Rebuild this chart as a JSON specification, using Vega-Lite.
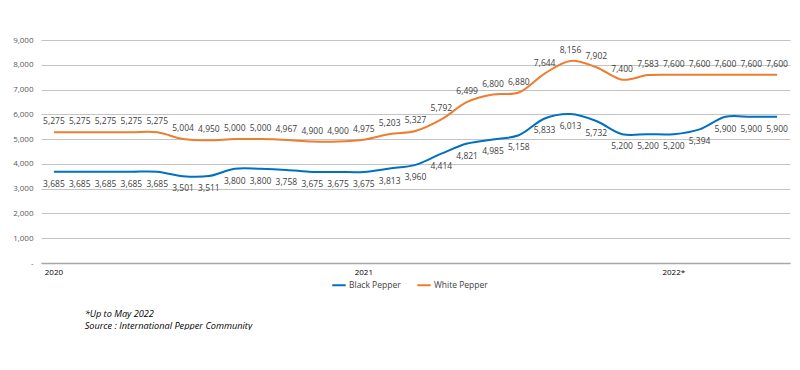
{
  "$schema": "https://vega.github.io/schema/vega-lite/v6.json",
  "autosize": "none",
  "width": 749,
  "height": 223,
  "padding": {"left": 41, "top": 40, "right": 10, "bottom": 67},
  "background": "white",
  "config": {
    "view": {"stroke": null},
    "font": "Open Sans",
    "axis": {"labelFont": "Open Sans", "labelColor": "#595959", "labelFontSize": 8, "ticks": false, "title": null},
    "legend": {"labelFont": "Open Sans"},
    "title": {"font": "Open Sans"}
  },
  "title": {
    "text": "*Up to May 2022",
    "subtitle": "Source : International Pepper Community",
    "orient": "bottom",
    "anchor": "start",
    "dx": 72,
    "offset": 20,
    "fontSize": 9.2,
    "fontStyle": "italic",
    "fontWeight": "normal",
    "color": "#000000",
    "subtitleFontSize": 9.2,
    "subtitleFontStyle": "italic",
    "subtitleColor": "#000000",
    "subtitlePadding": 3
  },
  "data": {
    "values": [
      {"month": "2020-01", "series": "Black Pepper", "price": 3685},
      {"month": "2020-02", "series": "Black Pepper", "price": 3685},
      {"month": "2020-03", "series": "Black Pepper", "price": 3685},
      {"month": "2020-04", "series": "Black Pepper", "price": 3685},
      {"month": "2020-05", "series": "Black Pepper", "price": 3685},
      {"month": "2020-06", "series": "Black Pepper", "price": 3501},
      {"month": "2020-07", "series": "Black Pepper", "price": 3511},
      {"month": "2020-08", "series": "Black Pepper", "price": 3800},
      {"month": "2020-09", "series": "Black Pepper", "price": 3800},
      {"month": "2020-10", "series": "Black Pepper", "price": 3758},
      {"month": "2020-11", "series": "Black Pepper", "price": 3675},
      {"month": "2020-12", "series": "Black Pepper", "price": 3675},
      {"month": "2021-01", "series": "Black Pepper", "price": 3675},
      {"month": "2021-02", "series": "Black Pepper", "price": 3813},
      {"month": "2021-03", "series": "Black Pepper", "price": 3960},
      {"month": "2021-04", "series": "Black Pepper", "price": 4414},
      {"month": "2021-05", "series": "Black Pepper", "price": 4821},
      {"month": "2021-06", "series": "Black Pepper", "price": 4985},
      {"month": "2021-07", "series": "Black Pepper", "price": 5158},
      {"month": "2021-08", "series": "Black Pepper", "price": 5833},
      {"month": "2021-09", "series": "Black Pepper", "price": 6013},
      {"month": "2021-10", "series": "Black Pepper", "price": 5732},
      {"month": "2021-11", "series": "Black Pepper", "price": 5200},
      {"month": "2021-12", "series": "Black Pepper", "price": 5200},
      {"month": "2022-01", "series": "Black Pepper", "price": 5200},
      {"month": "2022-02", "series": "Black Pepper", "price": 5394},
      {"month": "2022-03", "series": "Black Pepper", "price": 5900},
      {"month": "2022-04", "series": "Black Pepper", "price": 5900},
      {"month": "2022-05", "series": "Black Pepper", "price": 5900},
      {"month": "2020-01", "series": "White Pepper", "price": 5275},
      {"month": "2020-02", "series": "White Pepper", "price": 5275},
      {"month": "2020-03", "series": "White Pepper", "price": 5275},
      {"month": "2020-04", "series": "White Pepper", "price": 5275},
      {"month": "2020-05", "series": "White Pepper", "price": 5275},
      {"month": "2020-06", "series": "White Pepper", "price": 5004},
      {"month": "2020-07", "series": "White Pepper", "price": 4950},
      {"month": "2020-08", "series": "White Pepper", "price": 5000},
      {"month": "2020-09", "series": "White Pepper", "price": 5000},
      {"month": "2020-10", "series": "White Pepper", "price": 4967},
      {"month": "2020-11", "series": "White Pepper", "price": 4900},
      {"month": "2020-12", "series": "White Pepper", "price": 4900},
      {"month": "2021-01", "series": "White Pepper", "price": 4975},
      {"month": "2021-02", "series": "White Pepper", "price": 5203},
      {"month": "2021-03", "series": "White Pepper", "price": 5327},
      {"month": "2021-04", "series": "White Pepper", "price": 5792},
      {"month": "2021-05", "series": "White Pepper", "price": 6499},
      {"month": "2021-06", "series": "White Pepper", "price": 6800},
      {"month": "2021-07", "series": "White Pepper", "price": 6880},
      {"month": "2021-08", "series": "White Pepper", "price": 7644},
      {"month": "2021-09", "series": "White Pepper", "price": 8156},
      {"month": "2021-10", "series": "White Pepper", "price": 7902},
      {"month": "2021-11", "series": "White Pepper", "price": 7400},
      {"month": "2021-12", "series": "White Pepper", "price": 7583},
      {"month": "2022-01", "series": "White Pepper", "price": 7600},
      {"month": "2022-02", "series": "White Pepper", "price": 7600},
      {"month": "2022-03", "series": "White Pepper", "price": 7600},
      {"month": "2022-04", "series": "White Pepper", "price": 7600},
      {"month": "2022-05", "series": "White Pepper", "price": 7600}
    ]
  },
  "encoding": {
    "x": {
      "field": "month",
      "type": "ordinal",
      "sort": null,
      "scale": {"type": "band", "paddingInner": 0, "paddingOuter": 0},
      "axis": {
        "labelAngle": 0,
        "labelPadding": 5,
        "labelColor": "#000000",
        "domain": true,
        "domainColor": "#a6a6a6",
        "domainWidth": 1.5,
        "grid": false,
        "labelExpr": "datum.value === '2020-01' ? '2020' : datum.value === '2021-01' ? '2021' : datum.value === '2022-01' ? '2022*' : ''"
      }
    },
    "y": {
      "field": "price",
      "type": "quantitative",
      "scale": {"domain": [0, 9000], "nice": false},
      "axis": {
        "values": [0, 1000, 2000, 3000, 4000, 5000, 6000, 7000, 8000, 9000],
        "domain": false,
        "grid": true,
        "gridColor": "#c4c4c4",
        "gridWidth": 1,
        "labelPadding": 8,
        "labelExpr": "datum.value === 0 ? '-' : format(datum.value, ',')"
      }
    }
  },
  "layer": [
    {
      "mark": {"type": "line", "interpolate": "catmull-rom", "strokeWidth": 2},
      "encoding": {
        "color": {
          "field": "series",
          "type": "nominal",
          "scale": {"domain": ["Black Pepper", "White Pepper"], "range": ["#0070C0", "#ED7D31"]},
          "legend": {
            "title": null,
            "orient": "none",
            "legendX": 290,
            "legendY": 237,
            "direction": "horizontal",
            "symbolType": "stroke",
            "symbolSize": 180,
            "symbolStrokeWidth": 2,
            "labelFontSize": 8.5,
            "labelColor": "#404040",
            "labelOffset": 2,
            "columnPadding": 12
          }
        }
      }
    },
    {
      "transform": [{"filter": "datum.series === 'Black Pepper'"}],
      "mark": {"type": "text", "dy": 12, "fontSize": 8.5, "color": "#404040"},
      "encoding": {"text": {"field": "price", "type": "quantitative", "format": ","}}
    },
    {
      "transform": [{"filter": "datum.series === 'White Pepper'"}],
      "mark": {"type": "text", "dy": -11, "fontSize": 8.5, "color": "#404040"},
      "encoding": {"text": {"field": "price", "type": "quantitative", "format": ","}}
    }
  ]
}
